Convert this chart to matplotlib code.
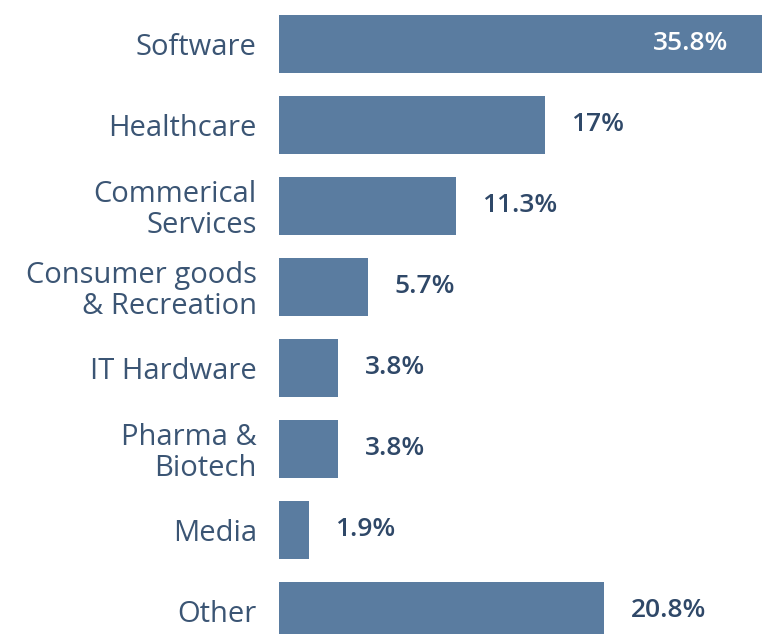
import matplotlib.pyplot as plt

# Sector split
categories = ["Software", "Healthcare", "Commerical\nServices", "Consumer goods\n& Recreation",
              "IT Hardware", "Pharma &\nBiotech", "Media", "Other"]
shares = [35.8, 17, 11.3, 5.7, 3.8, 3.8, 1.9, 20.8]
share_labels = ["35.8%", "17%", "11.3%", "5.7%", "3.8%", "3.8%", "1.9%", "20.8%"]

plt.rcParams['font.family'] = ['Open Sans', 'DejaVu Sans']

bar_color = "#5a7ca0"
text_color = "#3b5574"
value_color = "#2f4868"

fig = plt.figure(figsize=(7.68, 6.34), dpi=100)
# axes placed so the longest bar and the last bar run off the picture edges
ax = fig.add_axes([279 / 768, 0, (762 - 279) / 768, 1])

pos = list(range(len(categories)))
ax.barh(pos, shares, height=0.716, color=bar_color)
ax.set_xlim(0, 30.9)
ax.set_ylim(7.284, -0.543)

ax.set_yticks(pos)
ax.set_yticklabels(categories, fontsize=21, color=text_color, linespacing=1.05)
ax.tick_params(axis="y", length=0, pad=16)
ax.set_xticks([])
for s in ax.spines.values():
    s.set_visible(False)

for i, (v, lab) in enumerate(zip(shares, share_labels)):
    if v > 30.9:
        ax.annotate(lab, xy=(30.9, i), xytext=(-24, 0), textcoords="offset points",
                    ha="right", va="center", fontsize=19, fontweight="semibold", color="white")
    else:
        ax.annotate(lab, xy=(v, i), xytext=(19, 0), textcoords="offset points",
                    ha="left", va="center", fontsize=19, fontweight="semibold", color=value_color)

fig.savefig("out.png", dpi=100)
